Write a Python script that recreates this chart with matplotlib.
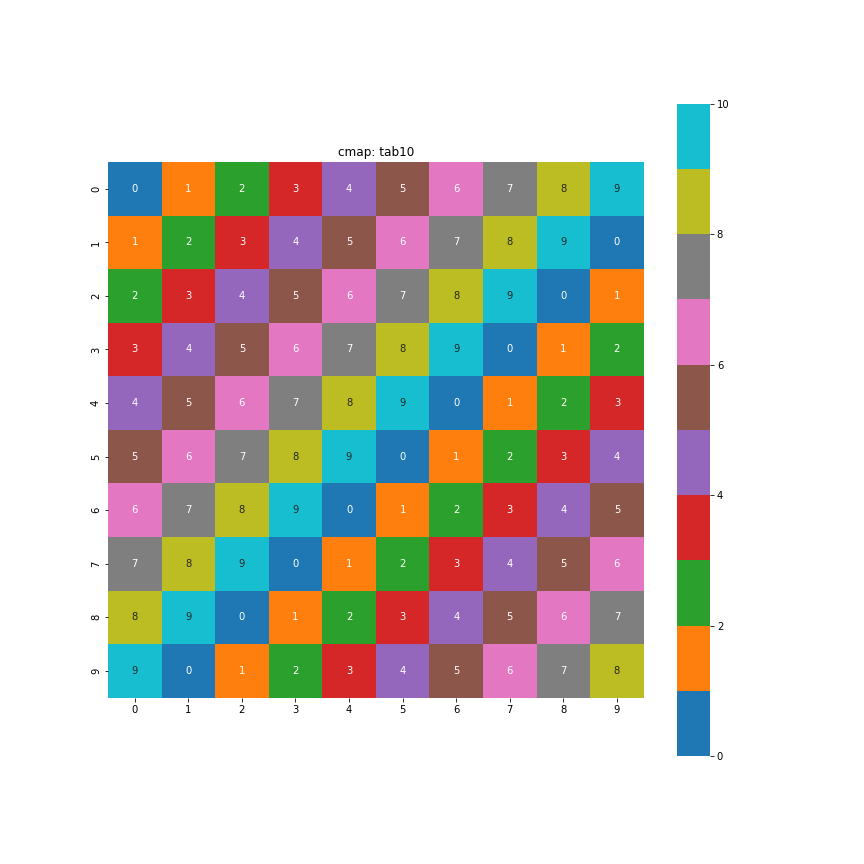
import matplotlib
matplotlib.use('Agg')
import matplotlib.pyplot as plt
import seaborn as sns
import numpy as np

# 10x10 cyclic grid
values = [
    [0, 1, 2, 3, 4, 5, 6, 7, 8, 9],
    [1, 2, 3, 4, 5, 6, 7, 8, 9, 0],
    [2, 3, 4, 5, 6, 7, 8, 9, 0, 1],
    [3, 4, 5, 6, 7, 8, 9, 0, 1, 2],
    [4, 5, 6, 7, 8, 9, 0, 1, 2, 3],
    [5, 6, 7, 8, 9, 0, 1, 2, 3, 4],
    [6, 7, 8, 9, 0, 1, 2, 3, 4, 5],
    [7, 8, 9, 0, 1, 2, 3, 4, 5, 6],
    [8, 9, 0, 1, 2, 3, 4, 5, 6, 7],
    [9, 0, 1, 2, 3, 4, 5, 6, 7, 8],
]
cmap_name = 'tab10'

fig, ax = plt.subplots(figsize=(12, 12), dpi=72)
plt.subplots_adjust(bottom=0.125)
sns.heatmap(np.array(values), annot=True, cmap=cmap_name, vmin=0, vmax=10,
            square=True, ax=ax)
ax.set_title('cmap: ' + cmap_name)
plt.savefig('out.png', dpi=72)
